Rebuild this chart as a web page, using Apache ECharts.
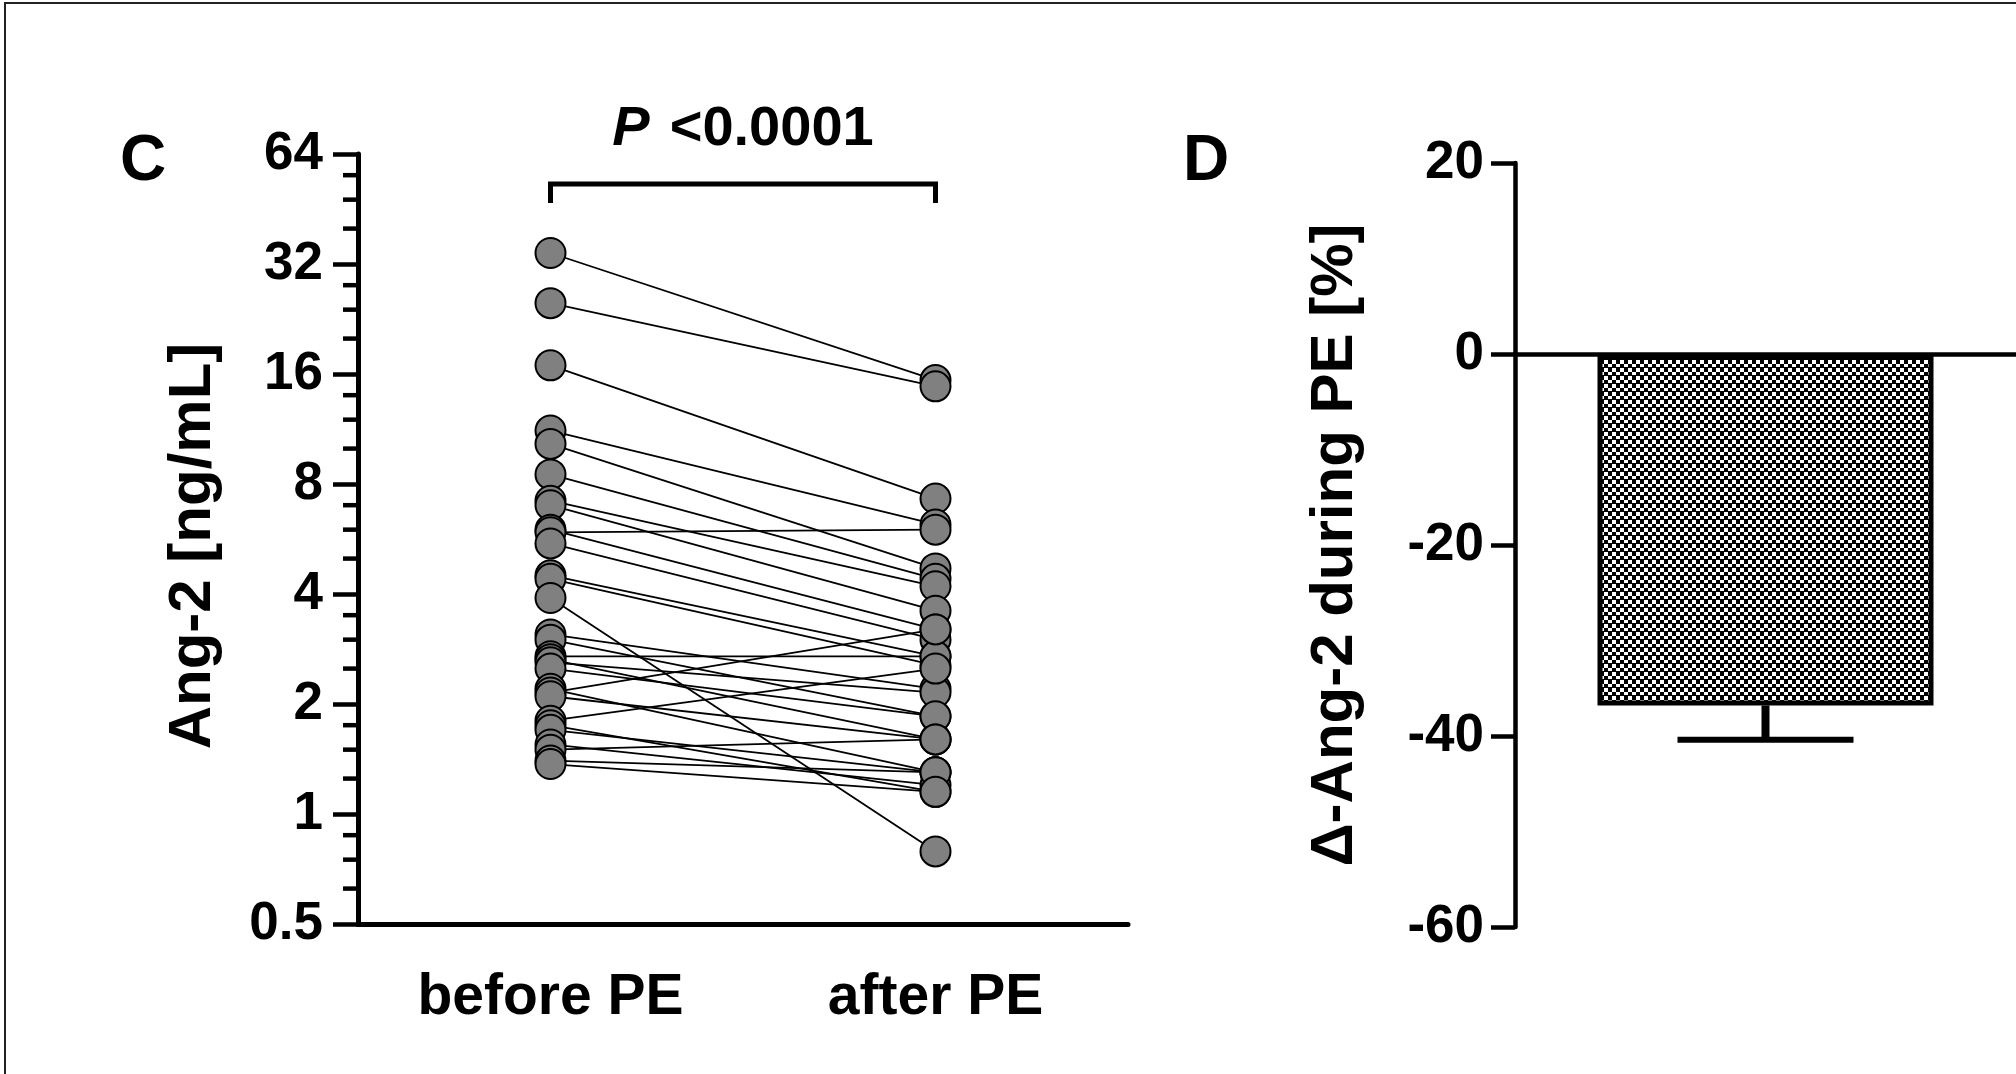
<!DOCTYPE html>
<html>
<head>
<meta charset="utf-8">
<title>Ang-2 before and after PE</title>
<script src="https://cdn.jsdelivr.net/npm/echarts@6/dist/echarts.min.js"></script>
<style>
  html, body { margin: 0; padding: 0; background: #fff; }
  #chart { width: 2016px; height: 1074px; }
</style>
</head>
<body>
<div id="chart"></div>
<script>
// Panel C: paired Ang-2 concentrations (ng/mL), one entry per patient
const groups = ['before PE', 'after PE'];
const beforePE = [34.3, 25.0, 16.9, 11.2, 10.3, 8.5, 7.2, 7.0, 6.0, 5.9,
                  5.5, 4.5, 4.4, 3.9, 3.1, 3.0, 2.7, 2.65, 2.6, 2.5,
                  2.2, 2.15, 2.1, 1.8, 1.75, 1.7, 1.55, 1.5, 1.4, 1.37];
const afterPE  = [15.4, 14.8, 7.3, 6.2, 4.7, 4.4, 4.2, 3.6, 3.2, 6.0,
                  3.0, 2.7, 2.55, 0.79, 2.2, 1.85, 2.7, 1.6, 2.15, 1.85,
                  1.3, 3.2, 1.6, 2.5, 1.15, 1.3, 1.2, 1.6, 1.3, 1.15];
const yTickValues = [0.5, 1, 2, 4, 8, 16, 32, 64];
const yMinorTickValues = [0.625, 0.75, 0.875, 1.25, 1.5, 1.75, 2.5, 3, 3.5,
                          5, 6, 7, 10, 12, 14, 20, 24, 28, 40, 48, 56];
const pValueLabel = '<0.0001';

// Panel D: mean percentage change with SEM
const deltaCategories = ['Δ-Ang-2'];
const deltaMean = [-36.8];
const deltaSem = [3.6];
const deltaTicks = { min: -60, max: 20, interval: 20 };

const FONT = '"Liberation Sans", Arial, sans-serif';
const BLACK = '#000';

// fine checkered fill used for the bar
function checkerPattern() {
  const c = document.createElement('canvas');
  c.width = 8; c.height = 8;
  const g = c.getContext('2d');
  g.fillStyle = '#fff';
  g.fillRect(0, 0, 8, 8);
  g.fillStyle = '#000';
  g.fillRect(0, 0, 4, 4);
  g.fillRect(4, 4, 4, 4);
  g.fillRect(0, 7, 8, 1);
  return c;
}

const chart = echarts.init(document.getElementById('chart'), null, { renderer: 'canvas' });

const pairSeries = beforePE.map((b, i) => ({
  type: 'line',
  xAxisIndex: 0, yAxisIndex: 0,
  data: [b, afterPE[i]],
  symbol: 'none',
  showSymbol: false,
  silent: true,
  lineStyle: { color: BLACK, width: 1.8 },
  z: 2
}));

const pointData = beforePE.map(v => [groups[0], v]).concat(afterPE.map(v => [groups[1], v]));

const option = {
  animation: false,
  backgroundColor: '#fff',
  grid: [
    { left: 358, top: 154, width: 770, height: 770 },
    { left: 1515, top: 163, width: 501, height: 764 }
  ],
  xAxis: [
    {
      type: 'category', gridIndex: 0, data: groups,
      axisLine: { lineStyle: { color: BLACK, width: 5 } },
      axisTick: { show: false },
      axisLabel: { color: BLACK, fontSize: 57, fontWeight: 'bold', fontFamily: FONT, margin: 46 },
      splitLine: { show: false }
    },
    {
      type: 'category', gridIndex: 1, data: deltaCategories,
      axisLine: { onZero: true, lineStyle: { color: BLACK, width: 4.5 } },
      axisTick: { show: false },
      axisLabel: { show: false },
      splitLine: { show: false }
    }
  ],
  yAxis: [
    {
      type: 'log', logBase: 2, gridIndex: 0,
      min: yTickValues[0], max: yTickValues[yTickValues.length - 1],
      axisLine: { show: true, lineStyle: { color: BLACK, width: 5 } },
      axisTick: { show: true, length: 25, lineStyle: { color: BLACK, width: 4.5 } },
      axisLabel: {
        color: BLACK, fontSize: 53, fontWeight: 'bold', fontFamily: FONT, margin: 35,
        formatter: v => String(+v.toPrecision(6))
      },
      splitLine: { show: false }
    },
    {
      type: 'value', gridIndex: 1,
      min: deltaTicks.min, max: deltaTicks.max, interval: deltaTicks.interval,
      axisLine: { show: true, lineStyle: { color: BLACK, width: 4.5 } },
      axisTick: { show: true, length: 24, lineStyle: { color: BLACK, width: 4.5 } },
      axisLabel: { color: BLACK, fontSize: 53, fontWeight: 'bold', fontFamily: FONT, margin: 31 },
      splitLine: { show: false }
    }
  ],
  series: pairSeries.concat([
    {
      type: 'scatter',
      xAxisIndex: 0, yAxisIndex: 0,
      data: pointData,
      symbol: 'circle',
      symbolSize: 30,
      itemStyle: { color: '#808080', borderColor: BLACK, borderWidth: 2, opacity: 1 },
      silent: true,
      z: 4
    },
    {
      // minor ticks of the log axis at 1.25, 1.5, 1.75 × each power of two
      type: 'custom',
      xAxisIndex: 0, yAxisIndex: 0,
      data: yMinorTickValues.map(v => [0, v]),
      silent: true,
      clip: false,
      renderItem: (params, api) => {
        const y = api.coord([0, api.value(1)])[1];
        const x0 = params.coordSys.x;
        return {
          type: 'line',
          shape: { x1: x0 - 15, y1: y, x2: x0, y2: y },
          style: { stroke: BLACK, lineWidth: 4.5 }
        };
      },
      z: 5
    },
    {
      type: 'bar',
      xAxisIndex: 1, yAxisIndex: 1,
      data: deltaMean,
      barWidth: 336,
      itemStyle: {
        color: { image: checkerPattern(), repeat: 'repeat' },
        borderColor: BLACK,
        borderWidth: 5
      },
      silent: true,
      z: 2
    },
    {
      // SEM whisker below the bar
      type: 'custom',
      xAxisIndex: 1, yAxisIndex: 1,
      data: deltaMean.map((m, i) => [i, m, m - deltaSem[i]]),
      silent: true,
      clip: false,
      renderItem: (params, api) => {
        const top = api.coord([api.value(0), api.value(1)]);
        const bot = api.coord([api.value(0), api.value(2)]);
        return {
          type: 'group',
          children: [
            { type: 'line', shape: { x1: top[0], y1: top[1], x2: bot[0], y2: bot[1] },
              style: { stroke: BLACK, lineWidth: 8 } },
            { type: 'line', shape: { x1: bot[0] - 88, y1: bot[1], x2: bot[0] + 88, y2: bot[1] },
              style: { stroke: BLACK, lineWidth: 6 } }
          ]
        };
      },
      z: 3
    }
  ])
};

chart.setOption(option);

// annotations: panel letters, axis titles, significance bracket, frame
const xBefore = chart.convertToPixel({ xAxisIndex: 0 }, groups[0]);
const xAfter = chart.convertToPixel({ xAxisIndex: 0 }, groups[1]);
const bracketTop = 184, bracketLeg = 203;

chart.setOption({
  graphic: [
    {
      type: 'rect', silent: true,
      shape: { x: 5, y: 3, width: 2100, height: 1200 },
      style: { fill: 'none', stroke: '#222', lineWidth: 2 }
    },
    {
      type: 'text', silent: true, x: 143, y: 162,
      style: { text: 'C', font: 'bold 64px ' + FONT, fill: BLACK, align: 'center', verticalAlign: 'middle' }
    },
    {
      type: 'text', silent: true, x: 1206, y: 162,
      style: { text: 'D', font: 'bold 64px ' + FONT, fill: BLACK, align: 'center', verticalAlign: 'middle' }
    },
    {
      type: 'text', silent: true, x: 193, y: 546, rotation: Math.PI / 2,
      style: { text: 'Ang-2 [ng/mL]', font: 'bold 60px ' + FONT, fill: BLACK, align: 'center', verticalAlign: 'middle' }
    },
    {
      type: 'text', silent: true, x: 1335, y: 545, rotation: Math.PI / 2,
      style: { text: 'Δ-Ang-2 during PE [%]', font: 'bold 60px ' + FONT, fill: BLACK, align: 'center', verticalAlign: 'middle' }
    },
    {
      type: 'polyline', silent: true,
      shape: { points: [[xBefore, bracketLeg], [xBefore, bracketTop], [xAfter, bracketTop], [xAfter, bracketLeg]] },
      style: { stroke: BLACK, lineWidth: 5, fill: 'none' }
    },
    {
      type: 'text', silent: true, x: (xBefore + xAfter) / 2, y: 130,
      style: {
        text: '{i|P}{n|' + pValueLabel + '}',
        align: 'center', verticalAlign: 'middle',
        rich: {
          i: { font: 'italic bold 56px ' + FONT, fill: BLACK, padding: [0, 20, 0, 0] },
          n: { font: 'bold 56px ' + FONT, fill: BLACK }
        }
      }
    }
  ]
});
</script>
</body>
</html>
